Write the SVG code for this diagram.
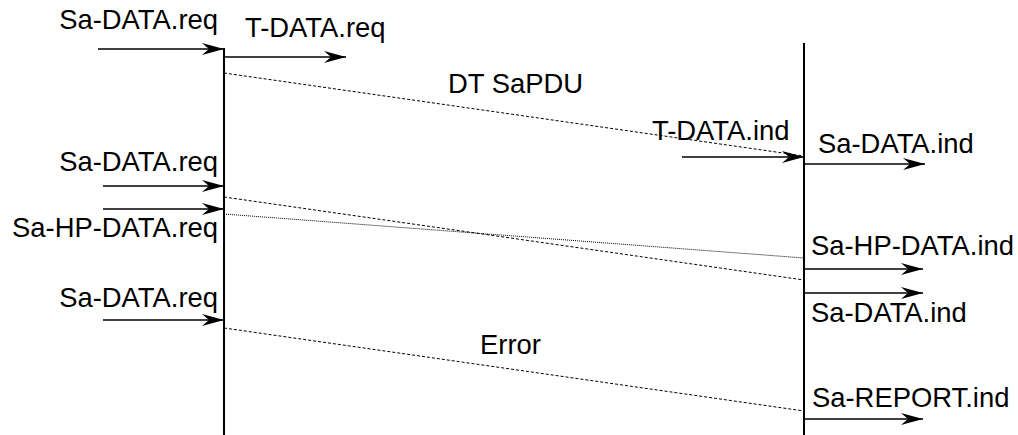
<svg xmlns="http://www.w3.org/2000/svg" width="1018" height="435" viewBox="0 0 1018 435">
<style>
text{font-family:"Liberation Sans",Arial,sans-serif;font-size:27.4px;fill:#000}
.life{stroke:#000;stroke-width:2;fill:none}
.arr{stroke:#000;stroke-width:1.7;fill:none;marker-end:url(#ah)}
.dash{stroke:#000;stroke-width:1;fill:none;stroke-dasharray:3 2}
.dot{stroke:#000;stroke-width:1;fill:none;stroke-dasharray:1 1}
.end{text-anchor:end}
</style>
<defs>
<marker id="ah" markerUnits="userSpaceOnUse" viewBox="-24 -8 25 16" refX="0" refY="0" markerWidth="25" markerHeight="16" orient="auto">
<path d="M0,0 L-22,-6 L-15,0 L-22,6 Z" fill="#000"/>
</marker>
</defs>
<rect width="1018" height="435" fill="#fff"/>
<g id="lifeline-sender">
<line class="life" x1="224" y1="48" x2="224" y2="435"/>
</g>
<g id="lifeline-receiver">
<line class="life" x1="804" y1="43" x2="804" y2="435"/>
</g>
<g id="connectors">
<line class="arr" x1="98" y1="49" x2="224" y2="49"/>
<line class="arr" x1="224" y1="57" x2="346" y2="57"/>
<line class="arr" x1="682" y1="157" x2="804" y2="157"/>
<line class="arr" x1="804" y1="164" x2="925" y2="164"/>
<line class="arr" x1="103" y1="186" x2="224" y2="186"/>
<line class="arr" x1="103" y1="209" x2="224" y2="209"/>
<line class="arr" x1="804" y1="269" x2="923" y2="269"/>
<line class="arr" x1="804" y1="293" x2="923" y2="293"/>
<line class="arr" x1="103" y1="320" x2="224" y2="320"/>
<line class="arr" x1="804" y1="419" x2="923" y2="419"/>
<line class="dash" x1="224" y1="73" x2="804" y2="156"/>
<line class="dash" x1="224" y1="197" x2="804" y2="280"/>
<line class="dot" x1="224" y1="214" x2="804" y2="258"/>
<line class="dash" x1="224" y1="328" x2="804" y2="411"/>
</g>
<g id="labels">
<text class="end" x="218" y="29">Sa-DATA.req</text>
<text x="245" y="37">T-DATA.req</text>
<text x="448" y="93">DT SaPDU</text>
<text x="652" y="140">T-DATA.ind</text>
<text x="818" y="153">Sa-DATA.ind</text>
<text class="end" x="218" y="171">Sa-DATA.req</text>
<text class="end" x="218" y="237">Sa-HP-DATA.req</text>
<text x="811" y="255">Sa-HP-DATA.ind</text>
<text x="811" y="322">Sa-DATA.ind</text>
<text class="end" x="218" y="307">Sa-DATA.req</text>
<text x="480" y="354">Error</text>
<text x="812" y="407">Sa-REPORT.ind</text>
</g>
</svg>
